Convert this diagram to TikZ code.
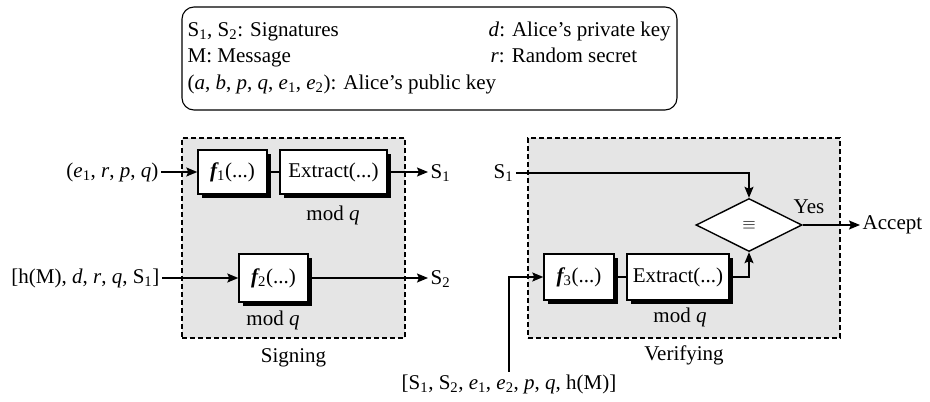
\documentclass[tikz,border=0pt]{standalone}
\usepackage{fontspec}
\setmainfont{Liberation Serif}
\usetikzlibrary{shapes.geometric,shadows,arrows.meta}
\newcommand\lowi[1]{\textsubscript{#1}}
\begin{document}
\begin{tikzpicture}[x=1pt,y=-1pt,
  font=\fontsize{21}{25}\selectfont,
  line width=1.4pt,
  arr/.style={-{Stealth[length=11pt,width=9pt,inset=2pt]}},
  fbox/.style={draw, fill=white, inner sep=0pt, minimum height=44pt,
    drop shadow={shadow xshift=4pt, shadow yshift=-4pt, fill=black, opacity=1}},
  area/.style={draw, dash pattern=on 5pt off 3pt, line width=1.2pt, fill=black!10,
    inner sep=0pt},
  txt/.style={inner sep=2pt},
]
\useasboundingbox (0,0) rectangle (930,402);
% legend
\node[draw, rounded corners=12pt, line width=1.1pt, minimum width=495pt, minimum height=103pt, inner sep=0pt] (legend) at (429.5,58.5) {};
\node[anchor=base west, inner sep=0pt] (l1) at (187,36) {S\lowi{1}, S\lowi{2}: Signatures};
\node[anchor=base west, inner sep=0pt] (l2) at (187,62) {M: Message};
\node[anchor=base west, inner sep=0pt] (l3) at (187,89) {(\textit{a}, \textit{b}, \textit{p}, \textit{q}, \textit{e}\lowi{1}, \textit{e}\lowi{2}): Alice's public key};
\node[anchor=base west, inner sep=0pt] (r1) at (488,36) {\textit{d}: Alice's private key};
\node[anchor=base west, inner sep=0pt] (r2) at (490,62) {\textit{r}: Random secret};
% areas
\node[area, minimum width=223pt, minimum height=200pt] (sign) at (293.5,238) {};
\node[area, minimum width=312pt, minimum height=200pt] (verif) at (684,238) {};
\node[txt] (signlbl) at (293.5,358) {Signing};
\node[txt] (veriflbl) at (684,355) {Verifying};
% signing
\node[fbox, minimum width=69pt] (f1) at (232.5,172) {{\bfseries\itshape f}\lowi{1}(...)};
\node[fbox, minimum width=107pt] (ex1) at (333.5,172) {Extract(...)};
\node[txt] (m1) at (333,215) {mod \textit{q}};
\node[txt, anchor=east] (in1) at (161,172) {(\textit{e}\lowi{1}, \textit{r}, \textit{p}, \textit{q})};
\node[txt, anchor=west] (out1) at (428,173) {S\lowi{1}};
\node[fbox, minimum width=69pt, minimum height=48pt] (f2) at (273.5,278) {{\bfseries\itshape f}\lowi{2}(...)};
\node[txt] (m2) at (273,320) {mod \textit{q}};
\node[txt, anchor=east] (in2) at (162,278) {[h(M), \textit{d}, \textit{r}, \textit{q}, S\lowi{1}]};
\node[txt, anchor=west] (out2) at (428,279) {S\lowi{2}};
% verifying
\node[txt, anchor=west] (vs1) at (491,173) {S\lowi{1}};
\node[draw, diamond, fill=white, aspect=2, minimum width=106pt, minimum height=53pt, inner sep=0pt] (dia) at (749,225) {\fontsize{16}{18}\selectfont$\equiv$};
\node[txt] (yes) at (809,207) {Yes};
\node[txt, anchor=west] (acc) at (860,225) {Accept};
\node[fbox, minimum width=70pt, minimum height=46pt] (f3) at (579,277) {{\bfseries\itshape f}\lowi{3}(...)};
\node[fbox, minimum width=102pt, minimum height=46pt] (ex3) at (678,277) {Extract(...)};
\node[txt] (m3) at (680,317) {mod \textit{q}};
\node[txt] (bot) at (509,384) {[S\lowi{1}, S\lowi{2}, \textit{e}\lowi{1}, \textit{e}\lowi{2}, \textit{p}, \textit{q}, h(M)]};
% connectors
\draw[arr] (in1.east) -- (f1.west);
\draw (f1.east) -- (ex1.west);
\draw[arr] (ex1.east) -- (ex1.east -| out1.west);
\draw[arr] (in2.east) -- (f2.west);
\draw[arr] (f2.east) -- (f2.east -| out2.west);
\draw[arr] (vs1.east |- 0,173) -| (dia.north);
\draw (f3.east) -- (ex3.west);
\draw[arr] (ex3.east) -| (dia.south);
\draw[arr] (dia.east) -- (acc.west |- dia.east);
\draw[arr] (bot.north) |- (f3.west);
\end{tikzpicture}
\end{document}
